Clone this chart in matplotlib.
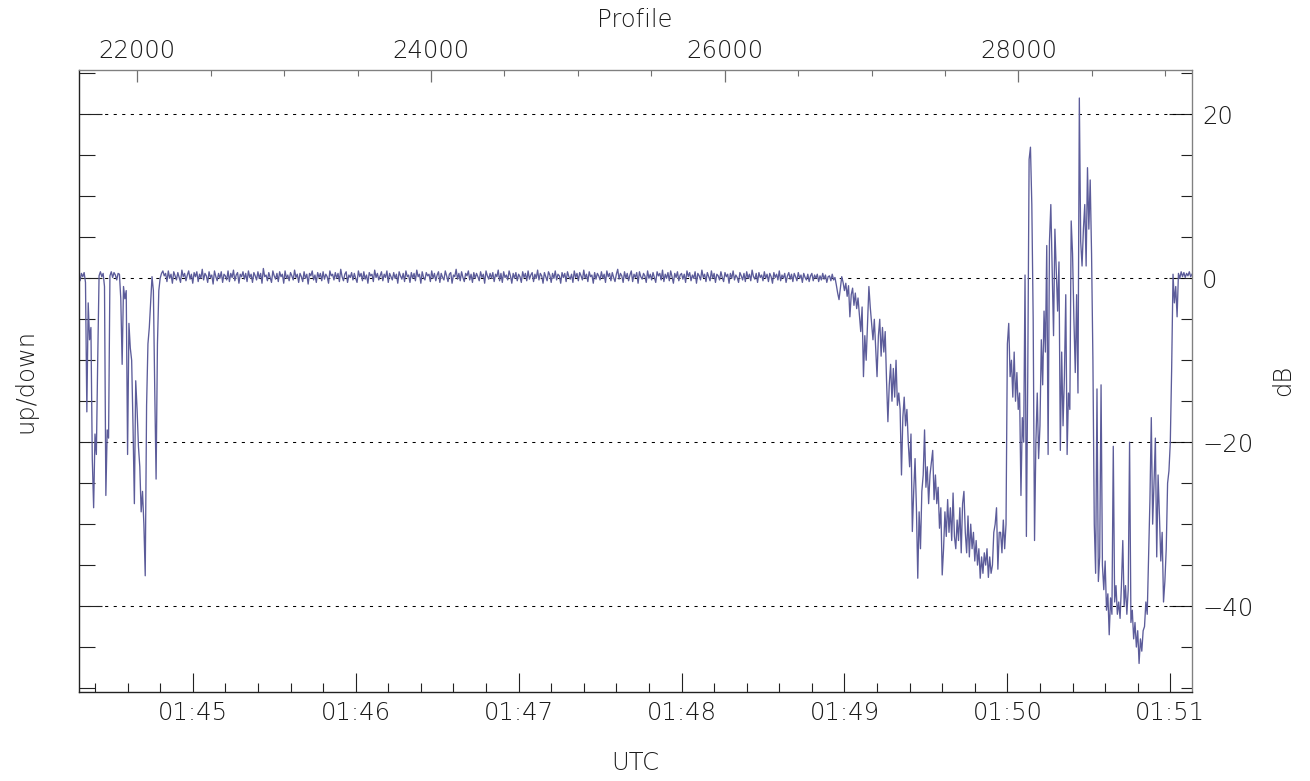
import numpy as np
import matplotlib
matplotlib.use("Agg")
import matplotlib.pyplot as plt
from matplotlib.ticker import MultipleLocator, FixedLocator, FuncFormatter

# ---------------- data (time in seconds after 01:44:00 UTC, values in dB) ----------------
seg_a_start, seg_a_step = 18.0, 0.5
seg_a_db = [0.4, -0.3, 0.6, 0.2, 0.7, -0.5, -16.3, -3.0, -7.5, -6.0,
            -22.0, -28.0, -19.0, -21.5, -10.0, 0.3, 0.8, 0.2, 0.6, -1.0,
            -26.5, -18.5, -19.5, 0.3, 0.8, 0.1, 0.7, 0.4, -0.2, 0.6,
            0.5, -2.5, -10.5, -1.0, -2.5, -1.5, -21.5, -5.5, -8.5, -10.0,
            -18.0, -27.5, -12.5, -16.0, -20.5, -23.0, -28.5, -26.0, -30.0, -36.3,
            -15.5, -8.0, -6.0, -3.0, 0.2, -1.5, -13.5, -24.5, -8.0, -1.5,
            0.0, 0.6, 0.9, 0.3]

seg_b_start, seg_b_step = 50.0, 0.5
seg_b_db = [
    0.6, -0.4, 0.9, 0.0, 0.5, -0.6, 0.8, 0.3, -0.2, 0.7, 0.1, -0.5, 1.0, 0.2, 0.6, -0.3, 0.4, 0.9, -0.1, 0.5,
    -0.6, 0.7, 0.2, 0.8, -0.4, 0.5, 0.0, 1.1, -0.2, 0.6, 0.3, -0.5, 0.8, 0.1, 0.4, -0.7, 0.9, 0.2, -0.3, 0.6,
    0.0, 0.8, -0.5, 0.5, 0.3, -0.2, 0.9, -0.4, 0.6, 0.1, 1.0, -0.3, 0.4, 0.7, -0.6, 0.5, 0.2, 0.8, -0.1, 0.6,
    -0.4, 0.9, 0.1, 0.5, -0.5, 0.7, 0.3, -0.2, 0.8, 0.0, 0.6, -0.6, 1.2, 0.2, 0.4, -0.3, 0.7, 0.1, -0.5, 0.9,
    0.3, -0.1, 0.6, -0.4, 0.8, 0.2, 0.5, -0.6, 0.9, 0.0, 0.4, -0.3, 0.7, 0.3, -0.2, 1.0, 0.1, 0.5, -0.5, 0.6,
    0.2, -0.4, 0.8, 0.0, 0.5, -0.7, 0.6, 0.3, 0.9, -0.2, 0.4, -0.5, 0.7, 0.1, 0.6, -0.3, 0.8, -0.1, 0.5, 0.2,
    -0.6, 0.9, 0.3, 0.5, -0.2, 0.7, 0.0, 0.6, -0.4, 1.1, 0.2, -0.3, 0.5, 0.8, -0.5, 0.4, 0.1, 0.7, -0.2, 0.6,
    0.0, -0.5, 0.9, 0.2, 0.6, -0.3, 0.8, -0.1, 0.4, -0.6, 0.7, 0.3, 0.5, -0.4, 1.0, 0.1, 0.6, -0.2, 0.3, 0.8,
    -0.3, 0.5, 0.1, 0.9, -0.5, 0.6, 0.2, -0.2, 0.7, 0.0, 0.5, -0.6, 0.8, 0.3, -0.1, 0.6, -0.4, 0.9, 0.2, 0.4,
    -0.5, 0.7, 0.0, 0.6, -0.3, 1.0, 0.2, 0.5, -0.6, 0.8, 0.1, -0.2, 0.7, 0.3, 0.5, -0.4, 0.9, 0.0, 0.6, -0.3,
    0.4, 0.8, -0.5, 0.6, 0.1, -0.2, 0.9, 0.3, -0.4, 0.5, 0.7, -0.6, 0.4, 0.2, 1.1, -0.1, 0.6, -0.3, 0.8, 0.1,
    -0.4, 0.6, 0.3, 0.9, -0.2, 0.5, -0.5, 0.7, 0.0, 0.6, 0.2, -0.3, 0.8, 0.1, 0.5, -0.6, 0.9, 0.3, -0.1, 0.6,
    0.0, 0.7, -0.4, 0.5, 0.2, 1.0, -0.3, 0.6, -0.5, 0.8, 0.1, 0.4, -0.2, 0.9, 0.3, -0.6, 0.6, 0.0, 0.7, -0.3,
    0.5, 0.2, -0.5, 0.8, 0.1, 0.6, -0.3, 0.9, -0.1, 0.4, 0.7, -0.4, 0.5, 0.0, 1.0, -0.2, 0.6, 0.3, -0.6, 0.7,
    0.2, -0.3, 0.8, 0.4, -0.5, 0.6, 0.0, 0.9, -0.2, 0.5, 0.3, -0.6, 0.7, 0.1, 0.6, -0.4, 0.8, 0.2, -0.1, 0.5,
    -0.5, 0.9, 0.1, 0.6, -0.3, 0.7, 0.3, -0.2, 1.0, 0.0, 0.5, -0.4, 0.8, 0.2, 0.4, -0.6, 0.7, -0.1, 0.6, 0.3,
    -0.2, 0.8, 0.0, 0.5, -0.5, 0.9, 0.2, 0.6, -0.3, 0.7, 0.1, -0.4, 0.5, 1.1, -0.1, 0.6, 0.3, -0.5, 0.8, 0.0,
    0.6, -0.3, 0.4, 0.9, -0.4, 0.5, 0.1, 0.7, -0.6, 0.8, 0.2, -0.1, 0.6, 0.3, -0.5, 0.9, 0.0, 0.5, -0.2, 0.7,
    0.1, -0.5, 0.8, 0.3, 0.6, -0.2, 1.0, -0.4, 0.5, 0.0, 0.7, -0.3, 0.9, 0.2, -0.6, 0.6, 0.1, 0.8, -0.3, 0.4,
    0.6, -0.1, 0.5, -0.5, 0.9, 0.2, 0.7, -0.3, 0.4, 0.0, 0.8, -0.6, 0.6, 0.3, -0.2, 1.0, 0.1, 0.5, -0.4, 0.7,
    0.2, -0.3, 0.9, 0.0, 0.6, -0.5, 0.5, 0.3, -0.2, 0.8, 0.1, -0.4, 0.7, 0.2, 0.5, -0.6, 0.6, 0.0, 0.9, -0.2,
    0.4, 0.1, -0.5, 0.7, 0.3, -0.2, 0.6, -0.4, 0.8, 0.0, 0.5, -0.3, 1.0, 0.2, -0.1, 0.6, -0.5, 0.7, 0.1, 0.4,
    -0.3, 0.8, 0.0, 0.5, -0.4, 0.6, 0.2, -0.6, 0.7, 0.1, 0.5, -0.2, 0.9, -0.3, 0.4, 0.0, 0.6, -0.5, 0.3, 0.7,
    -0.1, 0.5, -0.4, 0.6, 0.2, -0.3, 0.7, 0.0, 0.4, -0.5, 0.6, 0.1, -0.2, 0.5, -0.4, 0.3, 0.6, -0.3, 0.4, 0.0,
    0.5, -0.4, 0.3, -0.2, 0.6, -0.1, 0.4, -0.5, 0.2, 0.3, -0.3, 0.5, -0.2, 0.1]

seg_c_start, seg_c_step = 297.0, 0.5
seg_c_db = [
    -0.8, -1.8, -2.6, -1.2, 0.2, -0.5, -1.5, -0.6, -2.2, -0.9,
    -4.7, -2.0, -1.2, -3.3, -1.8, -3.7, -2.4, -4.5, -6.5, -3.5,
    -12.0, -7.0, -10.0, -5.5, -1.0, -3.5, -5.5, -7.5, -5.0, -8.5,
    -12.0, -7.0, -5.0, -9.5, -6.0, -9.0, -6.5, -12.5, -17.5, -13.0,
    -10.5, -15.0, -11.0, -14.5, -10.0, -15.5, -14.0, -16.0, -24.0, -17.0,
    -14.5, -18.0, -16.0, -20.0, -23.0, -19.0, -30.9, -26.0, -22.0, -28.0,
    -36.6, -28.5, -33.0, -26.0, -24.0, -18.5, -25.5, -23.0, -27.5, -24.0,
    -22.5, -21.0, -27.0, -24.0, -27.5, -25.5, -30.5, -28.0, -36.2, -33.0,
    -28.5, -31.5, -27.0, -31.0, -28.0, -32.0, -26.2, -31.5, -33.0, -29.5,
    -32.0, -28.0, -33.5, -27.5, -26.0, -31.0, -33.5, -29.0, -34.0, -30.0,
    -33.0, -31.0, -34.5, -32.0, -35.0, -33.0, -36.6, -34.0, -36.0, -33.5,
    -35.0, -33.0, -36.5, -34.0, -36.0, -35.0, -31.0, -30.0, -28.0, -35.5,
    -31.0]

seg_d_start, seg_d_step = 357.5, 0.5
seg_d_db = [-31.0, -33.5, -29.5, -33.0, -30.0, -8.0, -5.5, -12.0, -10.0, -14.5,
            -9.0, -15.0, -11.5, -16.0, -14.0, -26.5, -17.0, -20.0, 0.4, -31.5,
            -12.0, 14.5, 16.0, 9.0, -5.0, -32.0, -20.0, -14.0, -22.0, -18.0,
            -7.5, -13.0, -4.0, -9.0, 4.0, -21.5, 4.5, 9.0, 1.0, -7.0,
            6.0, 1.0, -4.0, 2.0, -21.0, -9.0, -18.0, -12.0, -2.0, -21.5,
            -14.0, -16.0, 7.0, 3.0, -5.0, -11.5, -2.0, -14.0, 22.0, 4.5,
            1.5, 6.0, 9.0, 1.5, 13.5, 6.0, 12.0, 3.0, -10.0, -30.0,
            -36.0, -13.5, -37.0, -34.0, -13.0, -35.0, -38.0, -34.5, -40.5, -38.5,
            -43.5, -39.0, -41.0, -20.5, -39.5, -37.5, -41.0, -39.5, -41.5, -37.5,
            -32.0, -40.0, -37.5, -41.0, -38.0, -20.0, -42.0, -40.5, -44.0, -42.0,
            -45.0, -43.0, -47.0, -44.0, -45.5, -43.0, -42.5, -39.5, -41.0, -34.0,
            -27.0, -17.0, -30.0, -25.0, -19.5, -34.0, -24.0, -29.0, -34.5, -31.0,
            -39.5, -37.0, -33.0, -25.0, -23.5, -20.0, -11.0, 0.5, -3.0, -1.0,
            -4.7, 0.6, 0.0, 0.8, 0.2, 0.7, 0.1, 0.6, 0.3, 0.8,
            0.2, 0.5]

grid_levels = [-40, -20, 0, 20]
profile_ticks = [22000, 24000, 26000, 28000]
profile_minor = [22500, 23000, 23500, 24500, 25000, 25500,
                 26500, 27000, 27500, 28500, 29000]
x_limits = (18.0, 428.1)
y_limits = (-50.52, 25.42)

# profile number as a function of time (top axis)
prof_ref_t, prof_ref_n, prof_rate = 60.0, 22377.3, 18.492


def seg(start, step, vals):
    v = np.asarray(vals, dtype=float)
    return start + step * np.arange(len(v)), v


parts = [seg(seg_a_start, seg_a_step, seg_a_db),
         seg(seg_b_start, seg_b_step, seg_b_db),
         seg(seg_c_start, seg_c_step, seg_c_db),
         seg(seg_d_start, seg_d_step, seg_d_db)]
t = np.concatenate([p[0] for p in parts])
db = np.concatenate([p[1] for p in parts])

# ---------------- figure ----------------
W, H = 1310, 781
PT = 0.72  # points per pixel at 100 dpi
fig = plt.figure(figsize=(W / 100, H / 100), dpi=100)
L, R, T, B = 78.7, 1192.3, 70.0, 692.3
ax = fig.add_axes([L / W, 1 - B / H, (R - L) / W, (B - T) / H])
ax.set_xlim(*x_limits)
ax.set_ylim(*y_limits)

txt_color = "#1c1c1c"
fs = 17.5
font = dict(family="DejaVu Sans", weight="light")

for lv in grid_levels:
    ax.axhline(lv, color="black", lw=0.75, ls=(0, (3, 5.2)), zorder=1)

ax.plot(t, db, color="#5c5c9a", lw=0.95, zorder=2)

# spines
for s in ("left", "bottom"):
    ax.spines[s].set_color("#222222")
    ax.spines[s].set_linewidth(1.0)
for s in ("top", "right"):
    ax.spines[s].set_color("#808080")
    ax.spines[s].set_linewidth(0.9)

# bottom (time) axis
ax.xaxis.set_major_locator(MultipleLocator(60))
ax.xaxis.set_minor_locator(MultipleLocator(12))
ax.xaxis.set_major_formatter(FuncFormatter(lambda v, p: "01:%02d" % int(round(44 + v / 60.0))))
ax.tick_params(axis="x", which="major", direction="in", length=19 * PT, width=0.8,
               top=False, labelsize=fs, labelcolor=txt_color, pad=6, color="#222222")
ax.tick_params(axis="x", which="minor", direction="in", length=9 * PT, width=0.8,
               top=False, color="#222222")

# left axis (no labels)
ax.yaxis.set_major_locator(FixedLocator(grid_levels))
ax.yaxis.set_minor_locator(MultipleLocator(5))
ax.tick_params(axis="y", which="major", direction="in", length=23 * PT, width=0.8,
               right=False, labelleft=False, color="#222222")
ax.tick_params(axis="y", which="minor", direction="in", length=16 * PT, width=0.8,
               right=False, color="#222222")

# right axis with labels
secy = ax.secondary_yaxis("right")
secy.yaxis.set_major_locator(FixedLocator(grid_levels))
secy.yaxis.set_minor_locator(MultipleLocator(5))
secy.yaxis.set_major_formatter(FuncFormatter(lambda v, p: ("%d" % v).replace("-", "\u2212")))
secy.tick_params(axis="y", which="major", direction="in", length=23 * PT, width=0.8,
                 labelsize=fs, labelcolor=txt_color, pad=7, color="#222222")
secy.tick_params(axis="y", which="minor", direction="in", length=11 * PT, width=0.8,
                 color="#222222")
secy.spines["right"].set_color("#808080")

# top axis: profile number
secx = ax.secondary_xaxis(
    "top",
    functions=(lambda x: prof_ref_n + prof_rate * (x - prof_ref_t),
               lambda p: prof_ref_t + (p - prof_ref_n) / prof_rate))
secx.xaxis.set_major_locator(FixedLocator(profile_ticks))
secx.xaxis.set_minor_locator(FixedLocator(profile_minor))
secx.xaxis.set_major_formatter(FuncFormatter(lambda v, p: "%d" % v))
secx.tick_params(axis="x", which="major", direction="in", length=12 * PT, width=0.9,
                 labelsize=fs, labelcolor=txt_color, pad=5, color="#707070")
secx.tick_params(axis="x", which="minor", direction="in", length=6 * PT, width=0.8,
                 color="#707070")
secx.spines["top"].set_color("#808080")

for lab in (ax.get_xticklabels() + secy.get_yticklabels() + secx.get_xticklabels()):
    lab.set_fontfamily("DejaVu Sans")
    lab.set_fontweight("light")

fig.text(635 / W, 1 - 20 / H, "Profile", ha="center", va="center", fontsize=fs,
         color=txt_color, **font)
fig.text(635 / W, 1 - 763 / H, "UTC", ha="center", va="center", fontsize=fs,
         color=txt_color, **font)
fig.text(25 / W, 1 - 381 / H, "up/down", ha="center", va="center", rotation=90,
         fontsize=fs, color=txt_color, **font)
fig.text(1283 / W, 1 - 380 / H, "dB", ha="center", va="center", rotation=90,
         fontsize=fs, color=txt_color, **font)

fig.savefig("out.png", dpi=100, facecolor="white")
